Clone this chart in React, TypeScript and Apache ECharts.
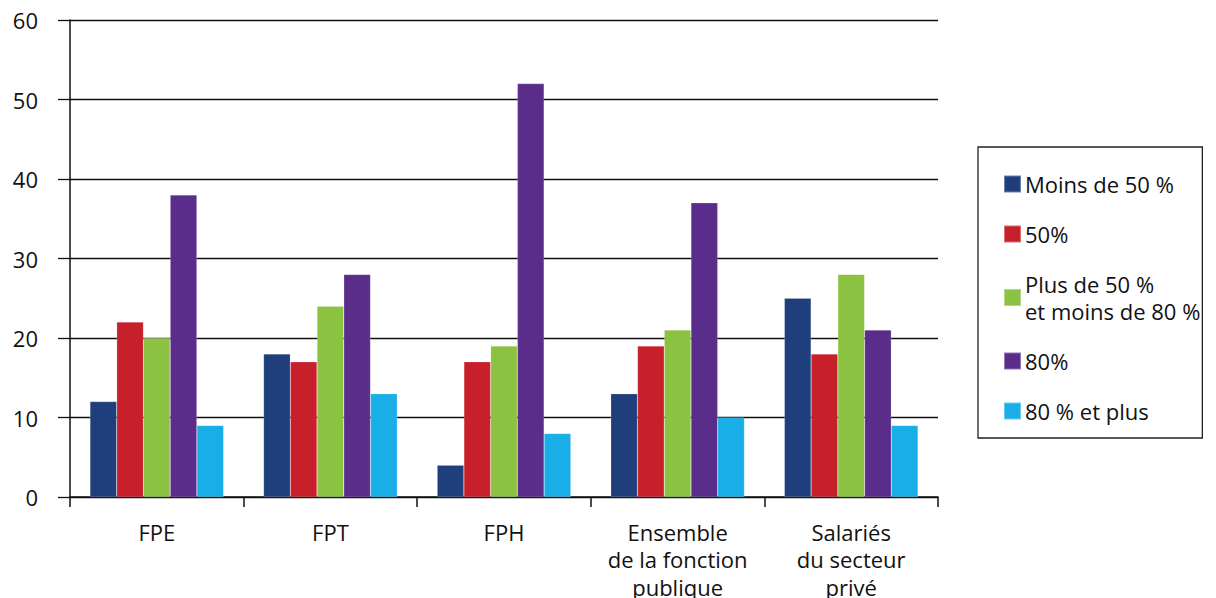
import React, { useEffect, useRef } from "react";
import * as echarts from "echarts";

const categories = ["FPE", "FPT", "FPH", "Ensemble\nde la fonction\npublique", "Salariés\ndu secteur\nprivé"];
const seriesNames = ["Moins de 50 %", "50%", "Plus de 50 %\net moins de 80 %", "80%", "80 % et plus"];
const moins50 = [12, 18, 4, 13, 25];
const egal50 = [22, 17, 17, 19, 18];
const plus50moins80 = [20, 24, 19, 21, 28];
const egal80 = [38, 28, 52, 37, 21];
const plus80 = [9, 13, 8, 10, 9];
const colors = ["#1e3f7b", "#c7202a", "#8bc241", "#5b2d8b", "#19aee8"];
const yTicks = { min: 0, max: 60, interval: 10 };

export default function App() {
  const ref = useRef<HTMLDivElement>(null);
  useEffect(() => {
    if (!ref.current) return;
    const chart = echarts.init(ref.current, null, { renderer: "svg" });
    const font = "'Open Sans', 'Noto Sans', sans-serif";
    const values = [moins50, egal50, plus50moins80, egal80, plus80];
    chart.setOption({
      animation: false,
      textStyle: { fontFamily: font },
      grid: { left: 70, right: 278, top: 20, bottom: 101, containLabel: false, outerBoundsMode: "none" },
      legend: {
        orient: "vertical",
        left: 978,
        top: 147,
        width: 260,
        padding: [23.5, 2, 13.5, 25],
        itemGap: 23,
        itemWidth: 17,
        itemHeight: 17,
        borderColor: "#222",
        borderWidth: 1.3,
        icon: "rect",
        textStyle: { fontSize: 22, color: "#111", fontFamily: font, lineHeight: 27, padding: [0, 0, 0, -1] },
        data: seriesNames,
      },
      xAxis: {
        type: "category",
        data: categories,
        axisLine: { show: true, lineStyle: { color: "#111", width: 1.5 } },
        axisTick: { show: true, length: 10, lineStyle: { color: "#111", width: 1.5 } },
        axisLabel: { color: "#111", fontSize: 22, margin: 21, lineHeight: 27.5, fontFamily: font, interval: 0 },
      },
      yAxis: {
        type: "value",
        min: yTicks.min,
        max: yTicks.max,
        interval: yTicks.interval,
        axisLine: { show: true, lineStyle: { color: "#111", width: 1.5 } },
        axisTick: { show: true, length: 12, lineStyle: { color: "#111", width: 1.3 } },
        axisLabel: { color: "#111", fontSize: 22, margin: 32, fontFamily: font },
        splitLine: { show: true, lineStyle: { color: "#111", width: 1.3 } },
      },
      series: seriesNames.map((name, i) => ({
        name,
        type: "bar",
        data: values[i],
        barGap: "0%",
        barCategoryGap: "23%",
        itemStyle: { color: colors[i], borderColor: "rgba(255,255,255,0.35)", borderWidth: 0.5 },
      })),
    });
    return () => chart.dispose();
  }, []);
  return <div ref={ref} style={{ width: 1216, height: 598, position: "absolute", left: 0, top: 0 }} />;
}
